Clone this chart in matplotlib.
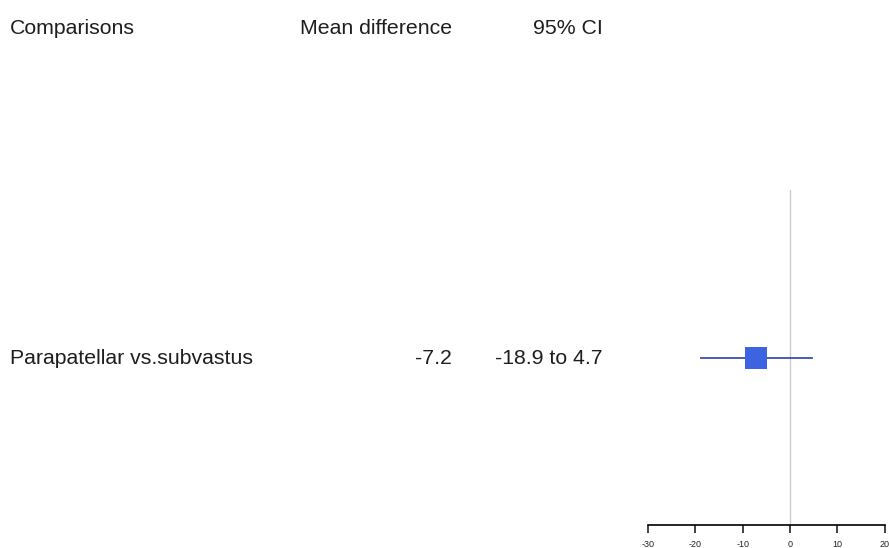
import numpy as np
import matplotlib
matplotlib.use("Agg")
import matplotlib.pyplot as plt

plt.rcParams['font.family'] = ['Liberation Sans', 'DejaVu Sans']

# data
headers = ["Comparisons", "Mean difference", "95% CI"]
comparisons = ["Parapatellar vs.subvastus"]
mean_diff = [-7.2]
ci_low = [-18.9]
ci_high = [4.7]
xticks = [-30, -20, -10, 0, 10, 20]

W, H = 889, 548
fig = plt.figure(figsize=(W / 100, H / 100), dpi=100)

# text columns (pixel positions converted to figure fractions)
fs = 15.3
tc = '#1e1e1e'
hy = 1 - 29 / H
fig.text(10 / W, hy, headers[0], ha='left', va='center', fontsize=fs, color=tc)
fig.text(452 / W, hy, headers[1], ha='right', va='center', fontsize=fs, color=tc)
fig.text(603 / W, hy, headers[2], ha='right', va='center', fontsize=fs, color=tc)

row_y = [1 - 359 / H]
for i, name in enumerate(comparisons):
    fig.text(10 / W, row_y[i], name, ha='left', va='center', fontsize=fs, color=tc)
    fig.text(452 / W, row_y[i], "%.1f" % mean_diff[i], ha='right', va='center', fontsize=fs, color=tc)
    fig.text(603 / W, row_y[i], "%.1f to %.1f" % (ci_low[i], ci_high[i]),
             ha='right', va='center', fontsize=fs, color=tc)

# forest plot panel
x0, x1 = 648, 884.7
ytop, ybot = 190, 525
ax = fig.add_axes([x0 / W, 1 - ybot / H, (x1 - x0) / W, (ybot - ytop) / H])
ax.set_xlim(-30, 20)
ax.set_ylim(0, 2)
ax.axvline(0, color='#cccccc', lw=1, zorder=0)

ys = np.arange(len(comparisons)) + 1
for i, y in enumerate(ys):
    ax.plot([ci_low[i], ci_high[i]], [y, y], color='#3f4fb0', lw=1.3, zorder=2)
    ax.plot(mean_diff[i], y, marker='s', markersize=15.5, color='#3c63e0',
            markeredgewidth=0, zorder=3)

for s in ['top', 'right', 'left']:
    ax.spines[s].set_visible(False)
ax.spines['bottom'].set_linewidth(1.2)
ax.set_yticks([])
ax.set_xticks(xticks)
ax.set_xticklabels([str(t) for t in xticks])
ax.tick_params(axis='x', direction='out', length=5.5, width=1.2, labelsize=6.5,
               pad=5, colors='#222222')

plt.savefig('out.png', dpi=100)
